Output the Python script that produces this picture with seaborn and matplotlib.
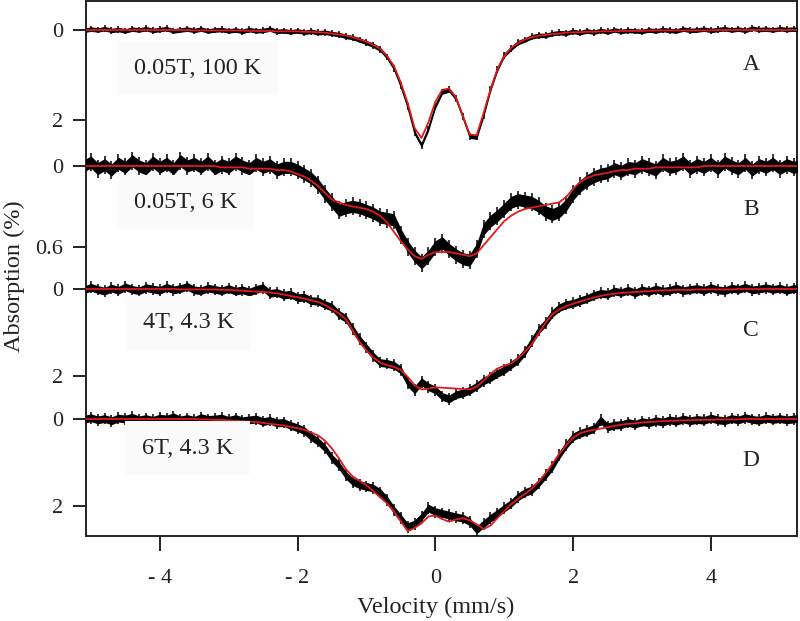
import numpy as np
import matplotlib
matplotlib.use("Agg")
import matplotlib.pyplot as plt
import seaborn as sns

# Velocity channels (mm/s), one every 0.1 mm/s from -5.1 to 5.3
velocity = np.round(np.arange(-5.1, 5.31, 0.1), 2)

data_a = [0.01, -0.02, 0.00, -0.03, 0.01, -0.01, 0.02, -0.02, 0.00, -0.03,
          0.01, -0.01, -0.03, 0.02, 0.00, -0.02, 0.01, -0.02, 0.02, 0.00,
          -0.01, 0.02, 0.00, 0.03, -0.01, 0.02, 0.01, -0.02, 0.03, 0.02,
          0.04, 0.02, 0.05, 0.03, 0.06, 0.05, 0.08, 0.10, 0.14, 0.17,
          0.22, 0.28, 0.34, 0.43, 0.60, 0.85, 1.24, 1.70, 2.28, 2.56,
          2.20, 1.70, 1.38, 1.33, 1.52, 1.93, 2.36, 2.38, 1.90, 1.33,
          0.88, 0.56, 0.41, 0.28, 0.22, 0.15, 0.12, 0.12, 0.08, 0.06,
          0.07, 0.03, 0.06, 0.02, 0.05, 0.01, 0.04, 0.00, 0.03, 0.01,
          0.02, 0.03, 0.00, 0.02, -0.01, 0.01, 0.02, -0.02, 0.01, 0.00,
          -0.02, 0.01, -0.01, -0.03, 0.00, -0.02, 0.01, -0.04, -0.01, -0.02,
          0.00, -0.03, -0.01, -0.02, 0.00]
fit_a = [0.00, 0.00, 0.00, 0.00, 0.00, 0.00, 0.00, 0.00, 0.00, 0.00,
         0.00, 0.00, 0.00, 0.00, 0.00, 0.00, 0.01, 0.01, 0.01, 0.01,
         0.01, 0.01, 0.01, 0.01, 0.02, 0.02, 0.02, 0.02, 0.03, 0.03,
         0.03, 0.03, 0.04, 0.04, 0.05, 0.06, 0.08, 0.10, 0.12, 0.16,
         0.21, 0.26, 0.33, 0.42, 0.58, 0.80, 1.17, 1.63, 2.18, 2.40,
         2.05, 1.60, 1.33, 1.30, 1.50, 1.91, 2.32, 2.34, 1.85, 1.33,
         0.88, 0.58, 0.40, 0.29, 0.21, 0.16, 0.13, 0.11, 0.09, 0.08,
         0.06, 0.05, 0.05, 0.04, 0.04, 0.03, 0.03, 0.03, 0.02, 0.02,
         0.02, 0.02, 0.01, 0.01, 0.01, 0.01, 0.01, 0.01, 0.01, 0.01,
         0.01, 0.01, 0.00, 0.00, 0.00, 0.00, 0.00, 0.00, 0.00, 0.00,
         0.00, 0.00, 0.00, 0.00, 0.00]

data_b = [0.00, -0.03, 0.02, -0.01, 0.03, -0.02, 0.01, -0.04, 0.00, 0.02,
          -0.03, 0.01, -0.02, 0.02, -0.04, 0.00, -0.02, 0.01, -0.03, 0.02,
          -0.01, 0.01, -0.03, 0.00, 0.02, -0.02, 0.01, -0.01, 0.03, 0.01,
          0.01, 0.03, 0.06, 0.09, 0.14, 0.21, 0.27, 0.33, 0.31, 0.30,
          0.31, 0.33, 0.35, 0.38, 0.39, 0.40, 0.51, 0.60, 0.67, 0.72,
          0.67, 0.60, 0.57, 0.62, 0.66, 0.69, 0.70, 0.62, 0.47, 0.41,
          0.37, 0.32, 0.27, 0.25, 0.26, 0.27, 0.30, 0.34, 0.36, 0.34,
          0.29, 0.21, 0.15, 0.11, 0.08, 0.06, 0.05, 0.02, 0.04, 0.01,
          0.02, -0.01, 0.01, 0.03, -0.02, 0.01, 0.00, -0.03, 0.02, -0.01,
          0.01, -0.02, 0.02, -0.03, 0.00, 0.02, -0.02, 0.03, -0.01, 0.01,
          -0.02, 0.02, -0.01, 0.01, 0.00]
fit_b = [0.00, 0.00, 0.00, 0.00, 0.00, 0.00, 0.00, 0.00, 0.00, 0.00,
         0.00, 0.00, 0.00, 0.00, 0.00, 0.00, 0.00, 0.00, 0.00, 0.00,
         0.01, 0.01, 0.01, 0.01, 0.02, 0.02, 0.02, 0.02, 0.03, 0.03,
         0.04, 0.06, 0.08, 0.11, 0.15, 0.20, 0.25, 0.27, 0.29, 0.30,
         0.31, 0.32, 0.34, 0.37, 0.42, 0.49, 0.56, 0.62, 0.67, 0.69,
         0.66, 0.64, 0.64, 0.64, 0.65, 0.66, 0.67, 0.65, 0.59, 0.53,
         0.47, 0.41, 0.37, 0.34, 0.32, 0.31, 0.30, 0.29, 0.28, 0.27,
         0.23, 0.17, 0.12, 0.09, 0.07, 0.06, 0.05, 0.04, 0.03, 0.03,
         0.02, 0.02, 0.02, 0.01, 0.01, 0.01, 0.01, 0.01, 0.01, 0.01,
         0.00, 0.00, 0.00, 0.00, 0.00, 0.00, 0.00, 0.00, 0.00, 0.00,
         0.00, 0.00, 0.00, 0.00, 0.00]

data_c = [0.02, -0.04, 0.01, 0.05, -0.02, 0.03, -0.05, 0.01, 0.04, -0.03,
          0.00, 0.03, -0.04, 0.02, -0.01, -0.06, 0.02, 0.04, -0.02, 0.01,
          0.04, -0.01, 0.05, 0.02, 0.07, 0.01, -0.03, 0.10, 0.08, 0.14,
          0.12, 0.20, 0.19, 0.27, 0.28, 0.36, 0.42, 0.58, 0.68, 0.92,
          1.16, 1.35, 1.55, 1.70, 1.72, 1.76, 1.87, 2.17, 2.33, 2.14,
          2.26, 2.33, 2.48, 2.54, 2.44, 2.40, 2.34, 2.24, 2.12, 2.05,
          1.95, 1.87, 1.75, 1.64, 1.45, 1.20, 0.95, 0.78, 0.56, 0.43,
          0.36, 0.33, 0.27, 0.22, 0.15, 0.10, 0.12, 0.05, 0.08, 0.03,
          0.09, 0.02, 0.06, 0.00, 0.05, 0.03, -0.02, 0.04, 0.01, -0.01,
          0.03, -0.03, 0.02, 0.04, -0.02, 0.01, -0.04, 0.02, 0.00, -0.03,
          0.01, -0.02, 0.03, -0.01, 0.00]
fit_c = [0.00, 0.00, 0.00, 0.00, 0.00, 0.00, 0.00, 0.00, 0.00, 0.00,
         0.00, 0.00, 0.00, 0.00, 0.01, 0.01, 0.01, 0.01, 0.01, 0.01,
         0.02, 0.02, 0.03, 0.04, 0.05, 0.06, 0.07, 0.08, 0.10, 0.13,
         0.16, 0.19, 0.22, 0.26, 0.30, 0.37, 0.47, 0.56, 0.70, 0.95,
         1.22, 1.42, 1.58, 1.70, 1.76, 1.80, 1.87, 2.03, 2.22, 2.32,
         2.30, 2.27, 2.28, 2.29, 2.30, 2.31, 2.32, 2.26, 2.12, 1.96,
         1.84, 1.77, 1.72, 1.60, 1.45, 1.28, 1.03, 0.78, 0.58, 0.47,
         0.40, 0.34, 0.29, 0.24, 0.20, 0.16, 0.13, 0.11, 0.09, 0.08,
         0.07, 0.06, 0.05, 0.04, 0.03, 0.03, 0.02, 0.02, 0.02, 0.01,
         0.01, 0.01, 0.01, 0.01, 0.01, 0.00, 0.00, 0.00, 0.00, 0.00,
         0.00, 0.00, 0.00, 0.00, 0.00]

data_d = [0.01, -0.03, 0.02, -0.01, 0.04, -0.02, 0.00, -0.04, 0.02, -0.01,
          0.03, -0.02, 0.00, -0.05, 0.02, -0.01, 0.03, -0.03, 0.01, 0.00,
          -0.02, 0.03, -0.01, 0.04, 0.02, 0.00, 0.06, 0.03, 0.09, 0.08,
          0.15, 0.20, 0.27, 0.41, 0.52, 0.67, 0.90, 1.06, 1.29, 1.44,
          1.51, 1.55, 1.59, 1.69, 1.86, 2.09, 2.28, 2.48, 2.41, 2.25,
          2.05, 2.13, 2.17, 2.21, 2.25, 2.28, 2.36, 2.55, 2.41, 2.28,
          2.17, 2.05, 1.94, 1.79, 1.69, 1.63, 1.48, 1.29, 1.10, 0.83,
          0.60, 0.41, 0.33, 0.28, 0.22, 0.02, 0.18, 0.14, 0.13, 0.08,
          0.12, 0.06, 0.09, 0.04, 0.07, 0.02, 0.05, 0.00, 0.04, 0.01,
          0.03, -0.02, 0.02, 0.04, -0.01, 0.02, -0.03, 0.01, 0.03, -0.02,
          0.01, -0.01, 0.02, 0.00, -0.02]
fit_d = [0.00, 0.00, 0.00, 0.00, 0.00, 0.00, 0.00, 0.00, 0.00, 0.00,
         0.00, 0.00, 0.00, 0.00, 0.00, 0.00, 0.00, 0.01, 0.01, 0.02,
         0.02, 0.03, 0.04, 0.05, 0.06, 0.07, 0.09, 0.11, 0.13, 0.15,
         0.18, 0.21, 0.25, 0.31, 0.38, 0.50, 0.68, 0.90, 1.15, 1.32,
         1.42, 1.52, 1.66, 1.80, 1.94, 2.13, 2.35, 2.58, 2.50, 2.40,
         2.24, 2.22, 2.30, 2.36, 2.31, 2.28, 2.33, 2.42, 2.53, 2.45,
         2.28, 2.12, 1.96, 1.84, 1.72, 1.60, 1.44, 1.25, 1.03, 0.80,
         0.60, 0.43, 0.33, 0.28, 0.25, 0.22, 0.19, 0.16, 0.13, 0.11,
         0.10, 0.08, 0.07, 0.06, 0.05, 0.04, 0.04, 0.03, 0.03, 0.02,
         0.02, 0.02, 0.01, 0.01, 0.01, 0.01, 0.00, 0.00, 0.00, 0.00,
         0.00, 0.00, 0.00, 0.00, 0.00]

letters = ["A", "B", "C", "D"]
conditions = ["0.05T, 100 K", "0.05T, 6 K", "4T, 4.3 K", "6T, 4.3 K"]
y_ticks = [[0, 2], [0, 0.6], [0, 2], [0, 2]]
y_tick_labels = [["0", "2"], ["0", "0.6"], ["0", "2"], ["0", "2"]]
x_ticks = [-4, -2, 0, 2, 4]
x_tick_labels = ["- 4", "- 2", "0", "2", "4"]

spectra = [(data_a, fit_a), (data_b, fit_b), (data_c, fit_c), (data_d, fit_d)]
for d, f in spectra:
    assert len(d) == len(velocity) and len(f) == len(velocity)

sns.set_style("white")
plt.rcParams["font.family"] = ["Liberation Serif", "DejaVu Serif"]

W, H = 800, 621
fig = plt.figure(figsize=(W / 100, H / 100), dpi=100)

# frame in pixels
L, R, T, B = 86, 797, 1, 536
rect = [L / W, 1 - B / H, (R - L) / W, (B - T) / H]

# layout of each spectrum: pixel row of zero, pixels per 1 % absorption
zero_row = [30, 166, 289, 419]
px_per_unit = [45.0, 134.5, 43.3, 43.5]
band = [0.05, 0.045, 0.09, 0.09]
cond_pos = [(134, 68), (134, 202), (143, 323), (142, 448)]
letter_pos = [(751, 65), (751, 210), (751, 330), (751, 460)]

text_col = "#222222"
red = "#e2191c"

ax = fig.add_axes(rect)
ax.set_xlim(-5.07, 5.25)
ax.set_ylim(0, 1)
ax.set_yticks([])
ax.set_xticks(x_ticks)
ax.set_xticklabels(x_tick_labels)
ax.tick_params(axis="x", direction="out", length=11, width=1.4, pad=13,
               labelsize=16, colors=text_col, bottom=True)
for sp in ax.spines.values():
    sp.set_visible(True)
    sp.set_linewidth(1.4)
    sp.set_color(text_col)

for k, (d, f) in enumerate(spectra):
    d = np.array(d)
    f = np.array(f)
    pax = fig.add_axes(rect, sharex=ax, label=f"panel{k}")
    pax.patch.set_alpha(0)
    for sp in pax.spines.values():
        sp.set_visible(False)
    y0, s = zero_row[k], px_per_unit[k]
    pax.set_ylim((B - y0) / s, (T - y0) / s)
    e = band[k]
    pax.fill_between(velocity, d - e, d + e, color="black", lw=0, zorder=1)
    pax.vlines(velocity, d - 1.5 * e, d + 1.5 * e, color="black", lw=1.1, zorder=1)
    pax.plot(velocity, d, color="black", lw=1.0, zorder=1)
    sns.lineplot(x=velocity, y=f, ax=pax, color=red, lw=1.3, zorder=3)
    pax.set_yticks(y_ticks[k])
    pax.set_yticklabels(y_tick_labels[k])
    pax.tick_params(axis="y", direction="out", length=9.5, width=1.4, pad=7,
                    labelsize=16, colors=text_col, left=True)
    pax.tick_params(axis="x", bottom=False, labelbottom=False)
    pax.set_xlabel("")
    pax.set_ylabel("")

    cx, cy = cond_pos[k]
    fig.text(cx / W, 1 - cy / H, conditions[k], ha="left", va="center",
             fontsize=17.5, color=text_col,
             bbox=dict(facecolor="#fbfbfb", edgecolor="none", pad=12))
    lx, ly = letter_pos[k]
    fig.text(lx / W, 1 - ly / H, letters[k], ha="center", va="center",
             fontsize=17, color=text_col)

fig.text(436 / W, 1 - 607 / H, "Velocity (mm/s)", ha="center", va="center",
         fontsize=17.5, color=text_col)
fig.text(14 / W, 1 - 276 / H, "Absorption (%)", ha="center", va="center",
         rotation=90, fontsize=17.5, color=text_col)

fig.savefig("out.png", dpi=100)
